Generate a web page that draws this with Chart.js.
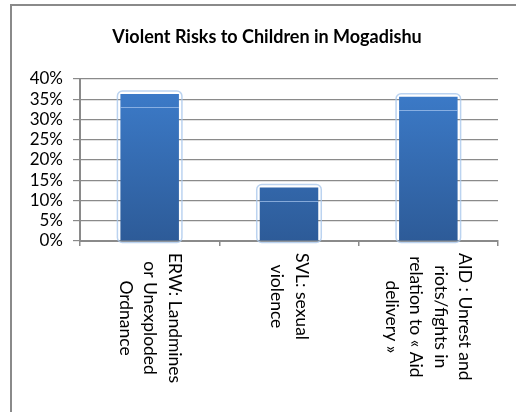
<!DOCTYPE html>
<html>
<head>
<meta charset="utf-8">
<script src="https://cdn.jsdelivr.net/npm/chart.js@4.4.1/dist/chart.umd.min.js"></script>
<style>
  html, body { margin: 0; padding: 0; background: #fff; }
  #wrap { width: 516px; height: 412px; position: relative; }
</style>
</head>
<body>
<div id="wrap"><canvas id="chart" width="516" height="412"></canvas></div>
<script>
// ################ DATA ################

var chartTitle = 'Violent Risks to Children in Mogadishu';
var categories = [
    ['ERW: Landmines', 'or Unexploded', 'Ordnance'],
    ['SVL: sexual', 'violence'],
    ['AID : Unrest and', 'riots/fights in', 'relation to \u00ab Aid', 'delivery \u00bb']
];
var riskValues = [36.3, 13.2, 35.6];
var yTicks = [0, 5, 10, 15, 20, 25, 30, 35, 40];

var fontFamily = 'Lato, "Liberation Sans", sans-serif';
var axisGray = '#8a8a8a';

// outer frame, title, bar outlines and the rotated category labels
var decorations = {
    id: 'decorations',
    beforeDraw: function (chart) {
        var ctx = chart.ctx;
        ctx.save();
        ctx.fillStyle = '#fff';
        ctx.fillRect(0, 0, chart.width, chart.height);
        ctx.strokeStyle = axisGray;
        ctx.lineWidth = 2;
        ctx.beginPath();
        ctx.moveTo(11, chart.height);
        ctx.lineTo(11, 5);
        ctx.lineTo(chart.width, 5);
        ctx.stroke();

        ctx.fillStyle = '#000';
        ctx.font = 'bold 18px ' + fontFamily;
        ctx.textAlign = 'center';
        ctx.textBaseline = 'middle';
        ctx.fillText(chartTitle, 267, 37);
        ctx.restore();
    },
    beforeDatasetsDraw: function (chart) {
        var ctx = chart.ctx;
        var meta = chart.getDatasetMeta(0);
        ctx.save();
        ctx.strokeStyle = 'rgba(170, 200, 236, 0.8)';
        ctx.lineWidth = 1.5;
        meta.data.forEach(function (bar) {
            var half = bar.width / 2;
            ctx.beginPath();
            ctx.roundRect(bar.x - half - 3, bar.y - 3, bar.width + 6, bar.base - bar.y + 5, 5);
            ctx.stroke();
        });
        ctx.restore();
    },
    afterDatasetsDraw: function (chart) {
        var ctx = chart.ctx;
        var meta = chart.getDatasetMeta(0);
        // soft highlight band near the top of each bar
        ctx.save();
        ctx.strokeStyle = 'rgba(170, 200, 240, 0.7)';
        ctx.lineWidth = 1;
        meta.data.forEach(function (bar) {
            var half = bar.width / 2;
            ctx.beginPath();
            ctx.moveTo(bar.x - half, Math.round(bar.y) + 13.5);
            ctx.lineTo(bar.x + half, Math.round(bar.y) + 13.5);
            ctx.stroke();
        });
        ctx.restore();
    },
    afterDraw: function (chart) {
        var ctx = chart.ctx;
        var xScale = chart.scales.x;
        var lineHeight = 24.5;
        var top = chart.chartArea.bottom + 12;
        ctx.save();
        ctx.fillStyle = '#000';
        ctx.font = '17.5px ' + fontFamily;
        ctx.textAlign = 'center';
        ctx.textBaseline = 'middle';
        categories.forEach(function (lines, i) {
            var cx = xScale.getPixelForValue(i);
            var maxW = 0;
            lines.forEach(function (l) { maxW = Math.max(maxW, ctx.measureText(l).width); });
            ctx.save();
            ctx.translate(cx, top);
            ctx.rotate(Math.PI / 2);
            lines.forEach(function (l, j) {
                ctx.fillText(l, maxW / 2, (j - (lines.length - 1) / 2) * lineHeight);
            });
            ctx.restore();
        });
        ctx.restore();
    }
};

// ################ CHART ################

var ctx = document.getElementById('chart').getContext('2d');

var chart = new Chart(ctx, {
    type: 'bar',
    data: {
        labels: categories.map(function (c) { return c.join(' '); }),
        datasets: [{
            data: riskValues,
            backgroundColor: function (context) {
                var area = context.chart.chartArea;
                if (!area) return '#3670b8';
                var g = context.chart.ctx.createLinearGradient(0, area.top, 0, area.bottom);
                g.addColorStop(0, '#3d7dcc');
                g.addColorStop(1, '#2d5b98');
                return g;
            },
            borderWidth: 0,
            barPercentage: 0.42,
            categoryPercentage: 1
        }]
    },
    options: {
        responsive: false,
        animation: false,
        devicePixelRatio: 1,
        layout: { padding: { top: 79, right: 18, left: 0, bottom: 0 } },
        plugins: {
            legend: { display: false },
            title: { display: false },
            tooltip: { enabled: false }
        },
        scales: {
            x: {
                afterFit: function (scale) { scale.height = 171; },
                ticks: { display: false },
                grid: {
                    offset: true,
                    drawOnChartArea: false,
                    drawTicks: true,
                    tickLength: 5,
                    color: axisGray,
                    lineWidth: 1.5
                },
                border: { color: axisGray, width: 2 }
            },
            y: {
                min: 0,
                max: 40,
                afterFit: function (scale) { scale.width = 80; },
                afterBuildTicks: function (scale) {
                    scale.ticks = yTicks.map(function (v) { return { value: v }; });
                },
                ticks: {
                    autoSkip: false,
                    color: '#000',
                    padding: 10,
                    font: { family: fontFamily, size: 17 },
                    callback: function (v) { return v + '%'; }
                },
                grid: {
                    color: axisGray,
                    lineWidth: 1.2,
                    tickLength: 7
                },
                border: { color: axisGray, width: 2 }
            }
        }
    },
    plugins: [decorations]
});
</script>
</body>
</html>
